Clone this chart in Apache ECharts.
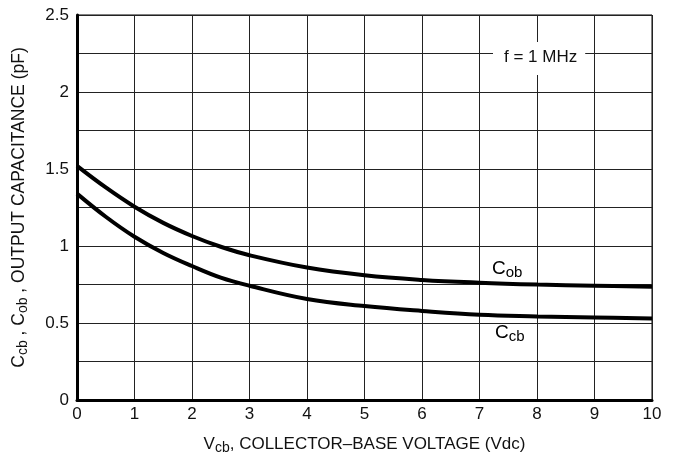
<!DOCTYPE html>
<html>
<head>
<meta charset="utf-8">
<script src="https://cdn.jsdelivr.net/npm/echarts@6/dist/echarts.min.js"></script>
<style>
  html, body { margin: 0; padding: 0; background: #fff; }
  #chart { width: 676px; height: 466px; }
</style>
</head>
<body>
<div id="chart"></div>
<script>
// Collector-base voltage (Vdc)
const vcb = [0, 0.5, 1, 1.5, 2, 2.5, 3, 4, 5, 6, 7, 8, 9, 10];
// Output capacitance Cob (pF)
const cob = [1.52, 1.38, 1.255, 1.15, 1.065, 0.995, 0.94, 0.86, 0.81, 0.78, 0.762, 0.75, 0.742, 0.735];
// Input capacitance Ccb (pF)
const ccb = [1.34, 1.19, 1.06, 0.955, 0.87, 0.795, 0.742, 0.656, 0.61, 0.578, 0.553, 0.543, 0.536, 0.529];
// y tick labels shown (others at 0.25 steps are grid only)
const yLabels = ['0', '0.5', '1', '1.5', '2', '2.5'];

const chart = echarts.init(document.getElementById('chart'));

const font = '"Liberation Sans", Arial, sans-serif';
const makeRich = (size, sub) => ({
  c: { fontFamily: font, fontSize: size, color: '#111', lineHeight: size + 4 },
  s: { fontFamily: font, fontSize: sub, color: '#111', verticalAlign: 'bottom', lineHeight: size + 4, padding: [Math.round(size * 0.5), 0, 0, 0] }
});

const pairs = arr => vcb.map((v, i) => [v, arr[i]]);

const option = {
  animation: false,
  backgroundColor: '#fff',
  grid: {
    left: 77, top: 15, right: 24, bottom: 66,
    outerBoundsMode: 'none', containLabel: false,
    show: true, borderColor: '#000', borderWidth: 1
  },
  xAxis: {
    type: 'value', min: 0, max: 10, interval: 1,
    axisLine: { show: true, onZero: false, lineStyle: { color: '#000', width: 3 } },
    axisTick: { show: false },
    splitLine: { show: true, lineStyle: { color: '#222', width: 1 } },
    axisLabel: { color: '#111', fontFamily: font, fontSize: 17, margin: 6 },
    name: '{c|V}{s|cb}{c|, COLLECTOR\u2013BASE VOLTAGE (Vdc)}',
    nameLocation: 'middle', nameGap: 34,
    nameTextStyle: { rich: makeRich(17, 14) }
  },
  yAxis: {
    type: 'value', min: 0, max: 2.5, interval: 0.25,
    axisLine: { show: true, lineStyle: { color: '#000', width: 3 } },
    axisTick: { show: false },
    splitLine: { show: true, lineStyle: { color: '#222', width: 1 } },
    axisLabel: {
      color: '#111', fontFamily: font, fontSize: 17, margin: 8,
      formatter: v => {
        const i = Math.round(v / 0.5);
        return Math.abs(v - i * 0.5) < 1e-6 ? yLabels[i] : '';
      }
    },
    name: '{c|C}{s|cb}{c| , C}{s|ob}{c| , OUTPUT CAPACITANCE (pF)}',
    nameLocation: 'middle', nameGap: 47, nameRotate: 90,
    nameTextStyle: { rich: makeRich(17.5, 14) }
  },
  series: [
    {
      name: 'Cob', type: 'line', smooth: 0.4, symbol: 'none',
      data: pairs(cob),
      lineStyle: { color: '#000', width: 4 }
    },
    {
      name: 'Ccb', type: 'line', smooth: 0.4, symbol: 'none',
      data: pairs(ccb),
      lineStyle: { color: '#000', width: 4 }
    }
  ],
  graphic: [
    {
      type: 'text', left: 493, top: 42, z: 10,
      style: {
        text: 'f = 1 MHz', font: '17px ' + font, fill: '#111',
        backgroundColor: '#fff', padding: [7, 8, 9, 11]
      }
    },
    {
      type: 'text', left: 492, top: 255, z: 10,
      style: { text: '{c|C}{s|ob}', rich: makeRich(19, 15) }
    },
    {
      type: 'text', left: 495, top: 319, z: 10,
      style: { text: '{c|C}{s|cb}', rich: makeRich(19, 15) }
    }
  ]
};

chart.setOption(option);
</script>
</body>
</html>
